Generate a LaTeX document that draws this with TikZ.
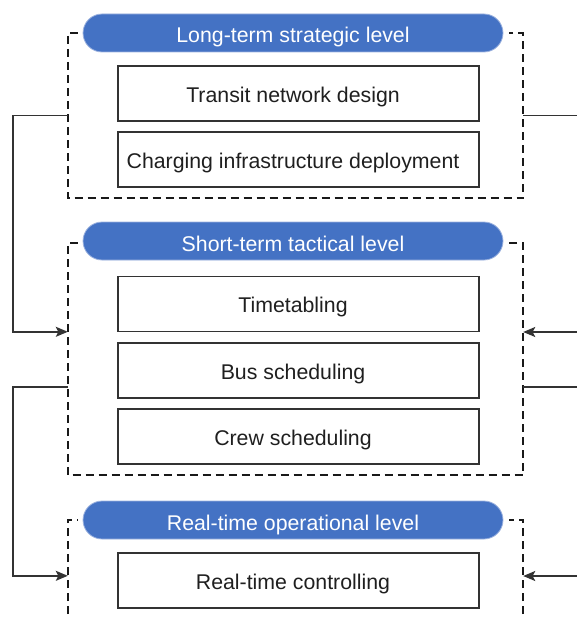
\documentclass[tikz,border=0pt]{standalone}
\usepackage{fontspec}
\setmainfont{Liberation Sans}
\usetikzlibrary{arrows.meta,calc}
\definecolor{pillblue}{HTML}{4472C4}
\definecolor{pillrim}{HTML}{9DB3DF}
\definecolor{inkgray}{HTML}{333333}
\begin{document}
\begin{tikzpicture}[x=1pt,y=-1pt,
  task/.style={draw=inkgray, line width=1.4pt, minimum width=361pt, minimum height=55pt,
    inner sep=0pt, text=black!88, text height=17.5pt, text depth=0pt,
    font=\fontsize{21.3}{25}\selectfont,
    execute at begin node={\hspace*{-11pt}}},
  level/.style={fill=pillblue, draw=pillrim, line width=0.8pt, rounded corners=19pt,
    minimum width=420pt, minimum height=38pt, inner sep=0pt, text=white,
    text height=20pt, text depth=0pt, font=\fontsize{21.3}{25}\selectfont},
  area/.style={draw=none, inner sep=0pt, minimum width=455pt},
  frame/.style={draw=black!90, line width=2pt, dash pattern=on 8pt off 5pt},
  link/.style={draw=inkgray, line width=1.4pt},
  flow/.style={link, -{Stealth[length=12pt,width=10pt,inset=2.5pt]}}
]
\useasboundingbox (0,0) rectangle (577,618);

% dashed planning levels (invisible anchors)
\node[area, minimum height=165pt] (L1) at (295.5,115.5) {};
\node[area, minimum height=232pt] (L2) at (295.5,359) {};
\node[area, minimum height=120pt] (L3) at (295.5,580) {};

% level titles
\node[level] (P1) at (293,33)  {Long-term strategic level};
\node[level] (P2) at (293,241) {Short-term tactical level};
\node[level] (P3) at (293,520) {Real-time operational level};

% planning tasks
\node[task] (T1) at (298.5,93.5)  {Transit network design};
\node[task] (T2) at (298.5,159.5) {Charging infrastructure deployment};
\node[task] (T3) at (298.5,304)   {Timetabling};
\node[task] (T4) at (298.5,370.5) {Bus scheduling};
\node[task] (T5) at (298.5,436.5) {Crew scheduling};
\node[task] (T6) at (298.5,580.5) {Real-time controlling};

% dashed outlines, interrupted by the titles
\draw[frame] ([xshift=-5pt]P1.west |- L1.north) -- (L1.north west) -- (L1.south west)
  -- (L1.south east) -- (L1.north east) -- ([xshift=6pt]P1.east |- L1.north);
\draw[frame] ([xshift=-5pt]P2.west |- L2.north) -- (L2.north west) -- (L2.south west)
  -- (L2.south east) -- (L2.north east) -- ([xshift=6pt]P2.east |- L2.north);
\draw[frame] (L3.south west) -- (L3.north west) -- ([xshift=-5pt]P3.west |- L3.north);
\draw[frame] (L3.south east) -- (L3.north east) -- ([xshift=6pt]P3.east |- L3.north);

% connector ends at the right margin
\coordinate (r1) at (577,115.5);
\coordinate (r2) at (577,332);
\coordinate (r3) at (577,387);
\coordinate (r4) at (577,576);
\coordinate (in2) at ($(L2.north west)+(0,89)$);
\coordinate (out2) at ($(L2.north west)+(0,144)$);
\coordinate (in3) at ($(L3.north west)+(0,56)$);

% feedback between levels
\draw[flow] (L1.west) -- ++(-55,0) |- (in2);
\draw[link] (L1.east) -- (r1);
\draw[flow] (r2) -- (L2.east |- r2);
\draw[flow] (out2) -- ++(-55,0) |- (in3);
\draw[link] (L2.east |- r3) -- (r3);
\draw[flow] (r4) -- (L3.east |- r4);
\end{tikzpicture}
\end{document}
